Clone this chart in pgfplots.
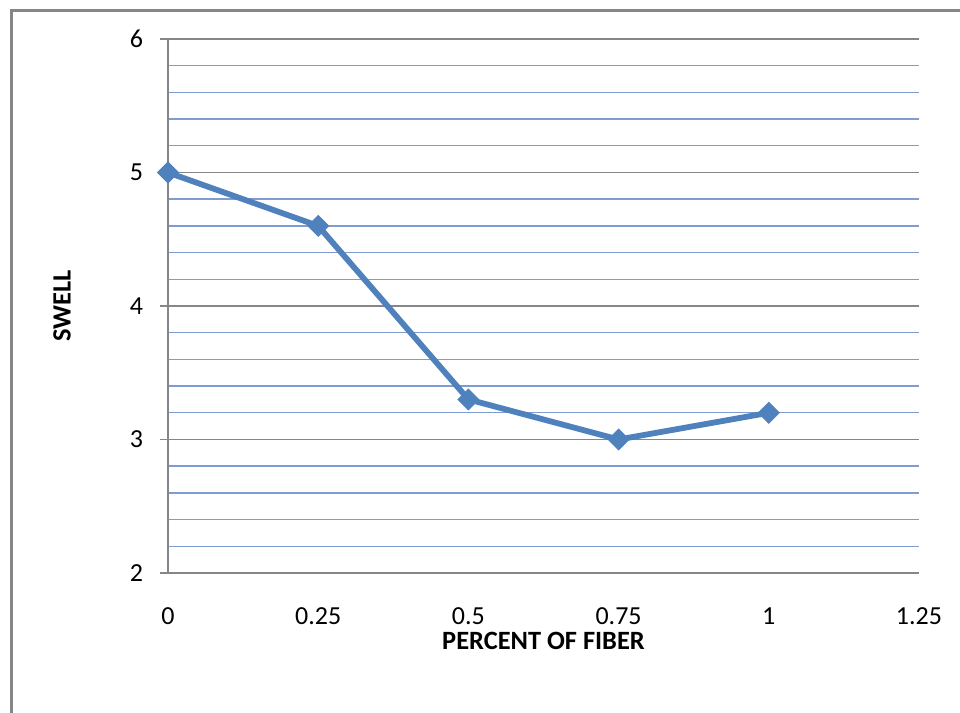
\documentclass[border=0pt]{standalone}
\usepackage{pgfplots}
\pgfplotsset{compat=1.18}
\usepackage{fontspec}
\setmainfont{Carlito}
\definecolor{serieblue}{HTML}{4F81BD}
\definecolor{majorgray}{HTML}{868686}
\definecolor{minorblue}{RGB}{128,155,208}

\begin{document}
\begin{tikzpicture}
\useasboundingbox (0pt,0pt) rectangle (480pt,356.5pt);
% chart frame (left and top edges)
\draw[majorgray, line width=1.3pt] (5.6pt,0pt) -- (5.6pt,351.3pt) -- (480pt,351.3pt);
\begin{axis}[
  at={(84pt,70pt)}, anchor=south west,
  scale only axis, width=375.5pt, height=267pt,
  xmin=0, xmax=1.25, ymin=2, ymax=6,
  xtick={0,0.25,0.5,0.75,1,1.25},
  xticklabels={0,0.25,0.5,0.75,1,1.25},
  ytick={2,3,4,5,6},
  minor ytick={2.2,2.4,2.6,2.8,3.2,3.4,3.6,3.8,4.2,4.4,4.6,4.8,5.2,5.4,5.6,5.8},
  axis x line*=bottom, axis y line*=left,
  axis line style={majorgray, line width=0.75pt, -},
  xtick style={draw=none},
  ytick style={majorgray, line width=0.75pt},
  tick align=outside, major tick length=4pt, minor tick length=0pt,
  ymajorgrids, yminorgrids,
  major grid style={majorgray, line width=0.6pt},
  minor grid style={minorblue, line width=0.7pt},
  /pgf/number format/assume math mode=true,
  tick label style={font=\fontsize{13}{15}\selectfont},
  xticklabel style={yshift=-10pt},
  yticklabel style={xshift=-5pt},
  xlabel={PERCENT OF FIBER}, ylabel={SWELL},
  label style={font=\fontsize{13.2}{15}\selectfont\bfseries},
  xlabel style={at={(axis description cs:0.5,-0.1273)}, anchor=center},
  ylabel style={at={(axis description cs:-0.1411,0.5)}, anchor=center},
  clip=false,
]
\addplot[serieblue, line width=2.9pt, mark=square*, mark size=3.7pt,
  mark options={rotate=45, solid, fill=serieblue, line width=0.4pt}]
  coordinates {(0,5) (0.25,4.6) (0.5,3.3) (0.75,3.0) (1,3.2)};
\end{axis}
\end{tikzpicture}
\end{document}
